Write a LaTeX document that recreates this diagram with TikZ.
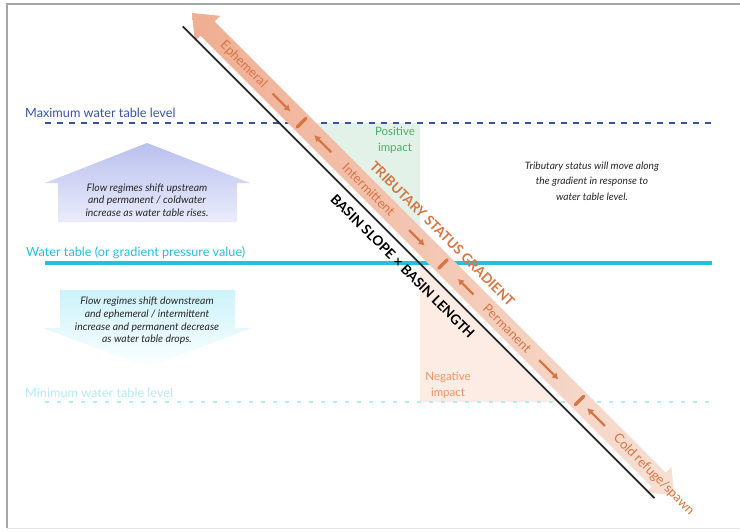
\documentclass[tikz,border=0pt]{standalone}
\usepackage{fontspec}
\setmainfont{Lato}
\usepackage{tikz}
\usetikzlibrary{arrows.meta,calc}
\definecolor{ink}{RGB}{40,40,40}
\definecolor{rust}{RGB}{214,118,68}
\definecolor{bandtop}{RGB}{240,174,146}
\definecolor{bandlow}{RGB}{247,224,212}
\definecolor{maxblue}{RGB}{55,85,165}
\definecolor{wtcyan}{RGB}{40,190,225}
\definecolor{mincyan}{RGB}{178,236,243}
\definecolor{posfill}{RGB}{226,242,232}
\definecolor{postext}{RGB}{72,176,104}
\definecolor{negfill}{RGB}{253,236,228}
\definecolor{negtext}{RGB}{236,150,100}
\definecolor{uptop}{RGB}{186,192,238}
\definecolor{uplow}{RGB}{234,236,251}
\definecolor{dntop}{RGB}{204,242,250}
\definecolor{dnlow}{RGB}{252,255,255}
\tikzset{
  tablelabel/.style={font=\fontsize{12.7}{14}\selectfont,anchor=base west,inner sep=0pt},
  note/.style={font=\itshape\fontsize{10.4}{12.7}\selectfont,align=center,text=ink},
  stage/.style={font=\fontsize{13}{14}\selectfont,text=rust,rotate=-45,inner sep=0pt},
  slopelabel/.style={font=\bfseries\fontsize{13.6}{14}\selectfont,rotate=-45,inner sep=0pt},
  impact/.style={font=\fontsize{11.5}{16}\selectfont,align=center},
  movearrow/.style={rust,line width=2.4pt,-{Latex[length=6pt,width=7.5pt]}},
  divider/.style={rust,line width=3.4pt,line cap=round}
}
\begin{document}
\begin{tikzpicture}[x=1pt,y=-1pt]
  \useasboundingbox (0,0) rectangle (740,531);
  \fill[white] (0,0) rectangle (740,531);
  \draw[gray!70,line width=1.2pt] (740,4) -- (7,4) -- (7,528);
  \draw[gray!20] (7,528) -- (740,528);
  \fill[posfill] (302,123) -- (420,123) -- (420,241) -- cycle;
  \fill[negfill] (420,265) -- (420,402) -- (558,402) -- cycle;
  \shade[top color=uptop,bottom color=uplow]
    (58,222) -- (58,183) -- (45,183) -- (147,143) -- (250,183) -- (237,183) -- (237,222) -- cycle;
  \shade[top color=dntop,bottom color=dnlow]
    (60,290) -- (235,290) -- (235,328) -- (252,328) -- (147,367) -- (43,328) -- (60,328) -- cycle;
  \node[tablelabel,text=maxblue] (maxlab) at (25,117) {Maximum water table level};
  \node[tablelabel,text=wtcyan] (wtlab) at (26,256) {Water table (or gradient pressure value)};
  \node[tablelabel,text=mincyan] (minlab) at (25,397) {Minimum water table level};
  \draw[maxblue,line width=2.4pt,dash pattern=on 6pt off 6pt] (45,123) -- (712,123);
  \draw[wtcyan,line width=3.6pt] (45,263) -- (712,263);
  \draw[mincyan,line width=2.4pt,dash pattern=on 4pt off 8pt] (45,402) -- (712,402);
  \begin{scope}[shift={(192,13)},rotate=-45]
    \shade[left color=bandtop,right color=bandlow]
      (0,0) -- (22,-18) -- (22,-10) -- (660,-10) -- (660,-18) -- (682,0)
      -- (660,18) -- (660,10) -- (22,10) -- (22,18) -- cycle;
    \coordinate (slopetop) at (3,16);
    \coordinate (slopeend) at (670,16);
    \draw[ink,line width=1.6pt] (slopetop) -- (slopeend);
    \foreach \s in {155,355,548}
      \draw[divider] (\s,-6) -- (\s,6);
    \foreach \a/\b in {114/139,197/173,307/329,398/376,491/518,584/559}
      \draw[movearrow] (\a,0) -- (\b,0);
    \node[stage] (ephem) at (73,0) {Ephemeral};
    \node[stage] (interm) at (250,0) {Intermittent};
    \node[stage] (perm) at (446,0) {Permanent};
    \node[stage] (cold) at (653,0) {Cold refuge/spawn};
    \node[slopelabel,text=rust] (gradient) at (333,-21) {TRIBUTARY STATUS GRADIENT};
    \node[slopelabel,text=black] (basin) at (328,30) {BASIN SLOPE × BASIN LENGTH};
  \end{scope}
  \node[impact,text=postext] (pos) at (395,140) {Positive\\impact};
  \node[impact,text=negtext] (neg) at (448,385) {Negative\\impact};
  \node[note] (upnote) at (147,200)
    {Flow regimes shift upstream\\and permanent / coldwater\\increase as water table rises.};
  \node[note] (downnote) at (147,321)
    {Flow regimes shift downstream\\and ephemeral / intermittent\\increase and permanent decrease\\as water table drops.};
  \node[note,font=\itshape\fontsize{10.2}{15.5}\selectfont] (statusnote) at (592,181)
    {Tributary status will move along\\the gradient in response to\\water table level.};
\end{tikzpicture}
\end{document}
